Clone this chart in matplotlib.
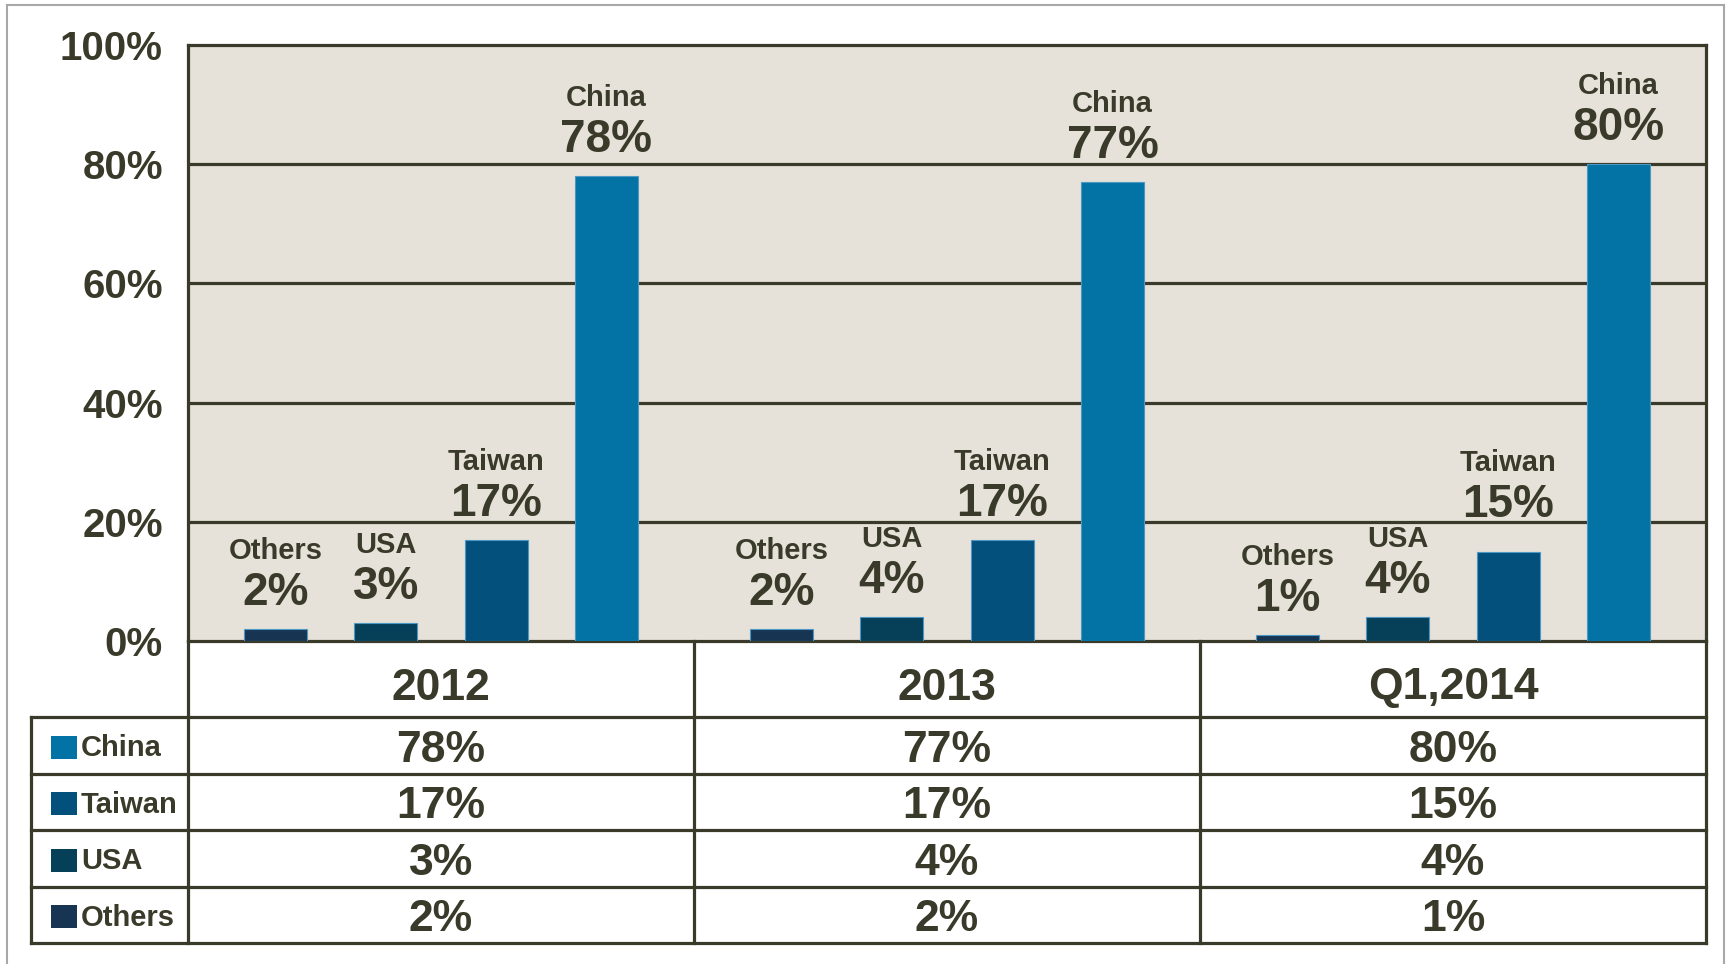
import numpy as np
import matplotlib
matplotlib.use("Agg")
import matplotlib.pyplot as plt
from matplotlib.lines import Line2D
from matplotlib.patches import Rectangle

plt.rcParams['font.family'] = ['Liberation Sans', 'DejaVu Sans']
plt.rcParams['font.weight'] = 'bold'

# shares by region, per period
periods = ['2012', '2013', 'Q1,2014']
regions = ['Others', 'USA', 'Taiwan', 'China']
others = [2, 2, 1]
usa = [3, 4, 4]
taiwan = [17, 17, 15]
china = [78, 77, 80]
values = [others, usa, taiwan, china]
colors = ['#173552', '#063f58', '#02507b', '#0273a4']
table_order = ['China', 'Taiwan', 'USA', 'Others']
yticks = [0, 20, 40, 60, 80, 100]

ink = '#3a3a2a'
panel = '#e6e2d9'
lw = 2.3

W, H = 1731, 964
fig = plt.figure(figsize=(W / 100, H / 100), dpi=100)
fig.patch.set_facecolor('white')

# chart area in pixels
left, right, top, bottom = 188, 1706, 45, 641
ax = fig.add_axes([left / W, 1 - bottom / H, (right - left) / W, (bottom - top) / H])
ax.set_facecolor(panel)
ax.set_xlim(0, 3)
ax.set_ylim(0, 100)
px_per_pct = (bottom - top) / 100

step = 0.218
width = 0.125
x = np.arange(len(periods)) + 0.5
for i, (name, vals, c) in enumerate(zip(regions, values, colors)):
    xs = x + (i - 1.5) * step
    ax.bar(xs, vals, width, color=c, edgecolor='#4d97c4', linewidth=0.8, zorder=3)
    for xi, v in zip(xs, vals):
        # keep the value label clear of the gridlines
        base = v + 24 / px_per_pct
        for g in yticks[1:-1]:
            if base - 0.3 < g < base + 5.8:
                base = g + 0.8
        off = (base - v) * px_per_pct
        ax.annotate(f'{v}%', (xi, v), xytext=(0, off), textcoords='offset pixels',
                    ha='center', va='baseline', fontsize=33, color=ink, zorder=4)
        ax.annotate(name, (xi, v), xytext=(0, off + 46), textcoords='offset pixels',
                    ha='center', va='baseline', fontsize=21, color=ink, zorder=4)

ax.set_yticks(yticks)
ax.set_yticklabels([f'{t}%' for t in yticks], fontsize=29, color=ink)
ax.tick_params(axis='y', length=0, pad=18)
ax.set_xticks([])
for yv in yticks[1:-1]:
    ax.axhline(yv, color=ink, lw=lw, zorder=2)
for s in ax.spines.values():
    s.set_color(ink)
    s.set_linewidth(lw)

# data table under the chart
t_left, t_bottom = 31, 943
tab = fig.add_axes([t_left / W, 1 - t_bottom / H, (right - t_left) / W, (t_bottom - bottom) / H])
unit = (right - left) / 3
x0 = -(left - t_left) / unit
tab.set_xlim(x0, 3)
tab.set_ylim(t_bottom - bottom, 0)
tab.axis('off')
tab.patch.set_alpha(0)

header_h = 76
row_h = (t_bottom - bottom - header_h) / 4
edges = [0] + [header_h + k * row_h for k in range(5)]

def seg(xa, xb, ya, yb):
    tab.add_line(Line2D([xa, xb], [ya, yb], color=ink, lw=lw, clip_on=False,
                        solid_capstyle='projecting'))

for yy in edges[1:]:
    seg(x0, 3, yy, yy)
for xx in [0, 1, 2, 3]:
    seg(xx, xx, 0, edges[-1])
seg(x0, x0, edges[1], edges[-1])

for j, p in enumerate(periods):
    tab.text(j + 0.5, header_h / 2 + 9, p, ha='center', va='center',
             fontsize=32, color=ink)

px = 1 / unit
for r, name in enumerate(table_order):
    k = regions.index(name)
    yc = (edges[r + 1] + edges[r + 2]) / 2
    tab.add_patch(Rectangle((x0 + 20 * px, yc - 11.5 + 2), 26 * px, 23,
                            facecolor=colors[k], edgecolor='none', clip_on=False))
    tab.text(x0 + 50 * px, yc + 3, name, ha='left', va='center',
             fontsize=21, color=ink)
    for j in range(len(periods)):
        tab.text(j + 0.5, yc + 5, f'{values[k][j]}%', ha='center', va='center',
                 fontsize=32, color=ink)

# thin grey frame around the figure
fx = lambda v: v / W
fy = lambda v: 1 - v / H
frame = dict(color='#a8a8a8', lw=1.5, transform=fig.transFigure)
fig.add_artist(Line2D([fx(7), fx(7)], [fy(5), 0], **frame))
fig.add_artist(Line2D([fx(7), fx(1724)], [fy(5), fy(5)], **frame))
fig.add_artist(Line2D([fx(1724), fx(1724)], [fy(5), 0], **frame))

fig.savefig('out.png', dpi=100)
